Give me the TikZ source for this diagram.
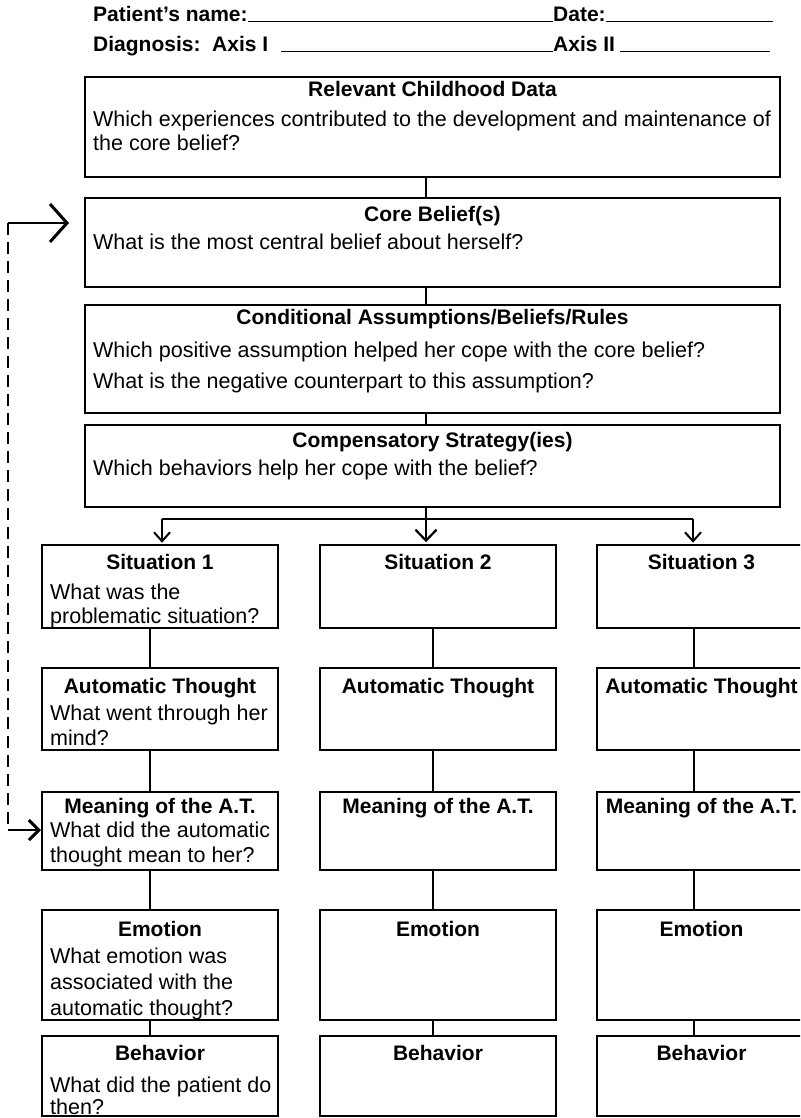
\documentclass[tikz,border=0pt]{standalone}
\usepackage{fontspec}
\setmainfont{Liberation Sans}
\usetikzlibrary{arrows.meta}

% box from its corners: name, x1, y1, x2, y2 (y grows downwards)
\newcommand\mkbox[5]{%
  \node[formbox, minimum width={(#4-#2)*1pt}, minimum height={(#5-#3)*1pt}]
    (#1) at ({(#2+#4)/2},{(#3+#5)/2}) {};}
% one line of text: name, x, baseline y, text
\newcommand\mkline[4]{\node[bodytxt] (#1) at (#2,#3) {#4};}
% centred heading: name, x, baseline y, text
\newcommand\mktitle[4]{\node[headtxt] (#1) at (#2,#3) {#4};}

\begin{document}
\begin{tikzpicture}[x=1pt,y=-1pt,
  formbox/.style={draw, line width=1.5pt, rectangle, inner sep=0pt},
  headtxt/.style={anchor=base, inner sep=0pt, font=\fontsize{21}{24}\selectfont\bfseries},
  bodytxt/.style={anchor=base west, inner sep=0pt, font=\fontsize{21.5}{24}\selectfont},
  formhdr/.style={anchor=base west, inner sep=0pt, font=\fontsize{21}{24}\selectfont\bfseries},
  blank/.style={line width=1pt},
  link/.style={line width=1.5pt},
  downarrow/.style={link, -{Straight Barb[length=9pt, width=16pt, line width=2pt]}},
  bigdown/.style={link, -{Straight Barb[length=11pt, width=21pt, line width=2.2pt]}},
  backloop/.style={line width=1.4pt, dash pattern=on 12pt off 7pt},
  looparrow/.style={line width=2.8pt, -{Straight Barb[length=17pt, width=38pt, line width=3pt]}},
  smallloop/.style={line width=2.8pt, -{Straight Barb[length=10pt, width=20pt, line width=3pt]}}]

\path[use as bounding box] (0,0) rectangle (800,1118);
\clip (0,0) rectangle (800,1118);

% ---------- form header ----------
\node[formhdr] (pname) at (93,22) {Patient's name:};
\node[formhdr] (pdate) at (553,22) {Date:};
\coordinate (pdateEnd) at (773,22);
\draw[blank] (pname.base east) -- (pdate.base west);
\draw[blank] (pdate.base east) -- (pdateEnd);

\node[formhdr] (axisone) at (93,52) {Diagnosis:\ \ Axis I};
\node[formhdr] (axistwo) at (553,52) {Axis II};
\coordinate (axisoneLine) at (281,52);
\coordinate (axistwoEnd) at (770,52);
\draw[blank] (axisoneLine) -- (axistwo.base west);
\draw[blank] ([xshift=5pt]axistwo.base east) -- (axistwoEnd);

% ---------- upper chain ----------
\mkbox{child}{85}{77}{780}{177}
\mktitle{childT}{432.5}{97}{Relevant Childhood Data}
\mkline{childA}{93}{127}{Which experiences contributed to the development and maintenance of}
\mkline{childB}{93}{151}{the core belief?}

\mkbox{core}{85}{198}{780}{287}
\mktitle{coreT}{432.5}{221}{Core Belief(s)}
\mkline{coreA}{93}{249}{What is the most central belief about herself?}

\mkbox{cond}{85}{305}{780}{413}
\mktitle{condT}{432.5}{324}{Conditional Assumptions/Beliefs/Rules}
\mkline{condA}{93}{357}{Which positive assumption helped her cope with the core belief?}
\mkline{condB}{93}{388}{What is the negative counterpart to this assumption?}

\mkbox{comp}{85}{425}{780}{507}
\mktitle{compT}{432.5}{447}{Compensatory Strategy(ies)}
\mkline{compA}{93}{475}{Which behaviors help her cope with the belief?}

\coordinate (spine) at (426,0);
\draw[link] (child.south -| spine) -- (core.north -| spine);
\draw[link] (core.south -| spine) -- (cond.north -| spine);
\draw[link] (cond.south -| spine) -- (comp.north -| spine);

% ---------- three situation columns ----------
% column 1
\mkbox{sitA}{42}{545}{278}{628}
\mktitle{sitAT}{160}{569}{Situation 1}
\mkline{sitA1}{50}{599}{What was the}
\mkline{sitA2}{50}{623}{problematic situation?}

\mkbox{autA}{42}{668}{278}{750}
\mktitle{autAT}{160}{693}{Automatic Thought}
\mkline{autA1}{50}{720}{What went through her}
\mkline{autA2}{50}{745}{mind?}

\mkbox{meanA}{42}{792}{278}{870}
\mktitle{meanAT}{160}{813}{Meaning of the A.T.}
\mkline{meanA1}{50}{837}{What did the automatic}
\mkline{meanA2}{50}{862}{thought mean to her?}

\mkbox{emoA}{42}{910}{278}{1020}
\mktitle{emoAT}{160}{936}{Emotion}
\mkline{emoA1}{50}{963}{What emotion was}
\mkline{emoA2}{50}{989}{associated with the}
\mkline{emoA3}{50}{1015}{automatic thought?}

\mkbox{behA}{42}{1036}{278}{1116}
\mktitle{behAT}{160}{1060}{Behavior}
\mkline{behA1}{50}{1092}{What did the patient do}
\mkline{behA2}{50}{1114}{then?}

% column 2
\mkbox{sitB}{320}{545}{556}{628}
\mktitle{sitBT}{438}{569}{Situation 2}
\mkbox{autB}{320}{668}{556}{750}
\mktitle{autBT}{438}{693}{Automatic Thought}
\mkbox{meanB}{320}{792}{556}{870}
\mktitle{meanBT}{438}{813}{Meaning of the A.T.}
\mkbox{emoB}{320}{910}{556}{1020}
\mktitle{emoBT}{438}{936}{Emotion}
\mkbox{behB}{320}{1036}{556}{1116}
\mktitle{behBT}{438}{1060}{Behavior}

% column 3
\mkbox{sitC}{597}{545}{806}{628}
\mktitle{sitCT}{701.5}{569}{Situation 3}
\mkbox{autC}{597}{668}{806}{750}
\mktitle{autCT}{701.5}{693}{Automatic Thought}
\mkbox{meanC}{597}{792}{806}{870}
\mktitle{meanCT}{701.5}{813}{Meaning of the A.T.}
\mkbox{emoC}{597}{910}{806}{1020}
\mktitle{emoCT}{701.5}{936}{Emotion}
\mkbox{behC}{597}{1036}{806}{1116}
\mktitle{behCT}{701.5}{1060}{Behavior}

% column links
\coordinate (colA) at (150,0);
\coordinate (colB) at (433,0);
\coordinate (colC) at (694,0);
\foreach \c/\k in {A/colA, B/colB, C/colC} {
  \draw[link] (sit\c.south -| \k) -- (aut\c.north -| \k);
  \draw[link] (aut\c.south -| \k) -- (mean\c.north -| \k);
  \draw[link] (mean\c.south -| \k) -- (emo\c.north -| \k);
  \draw[link] (emo\c.south -| \k) -- (beh\c.north -| \k);
}

% fan-out from the compensatory strategies
\coordinate (fanL) at (162,519);
\coordinate (fanR) at (693,519);
\draw[link] (fanL) -- (fanR);
\draw[downarrow, shorten >=1.5pt] (fanL) -- (sitA.north -| fanL);
\draw[downarrow, shorten >=1.5pt] (fanR) -- (sitC.north -| fanR);
\draw[bigdown, shorten >=2pt] (comp.south -| spine) -- (sitB.north -| spine);

% feedback loop from the meaning of the thought back to the core belief
\coordinate (loopTop) at (8,223);
\coordinate (loopBot) at (8,830);
\coordinate (coreIn) at (69,223);
\coordinate (meanIn) at (41,830);
\draw[backloop] (loopTop) -- (loopBot);
\draw[looparrow] (loopTop) -- (coreIn);
\draw[smallloop] (loopBot) -- (meanIn);

\end{tikzpicture}
\end{document}
